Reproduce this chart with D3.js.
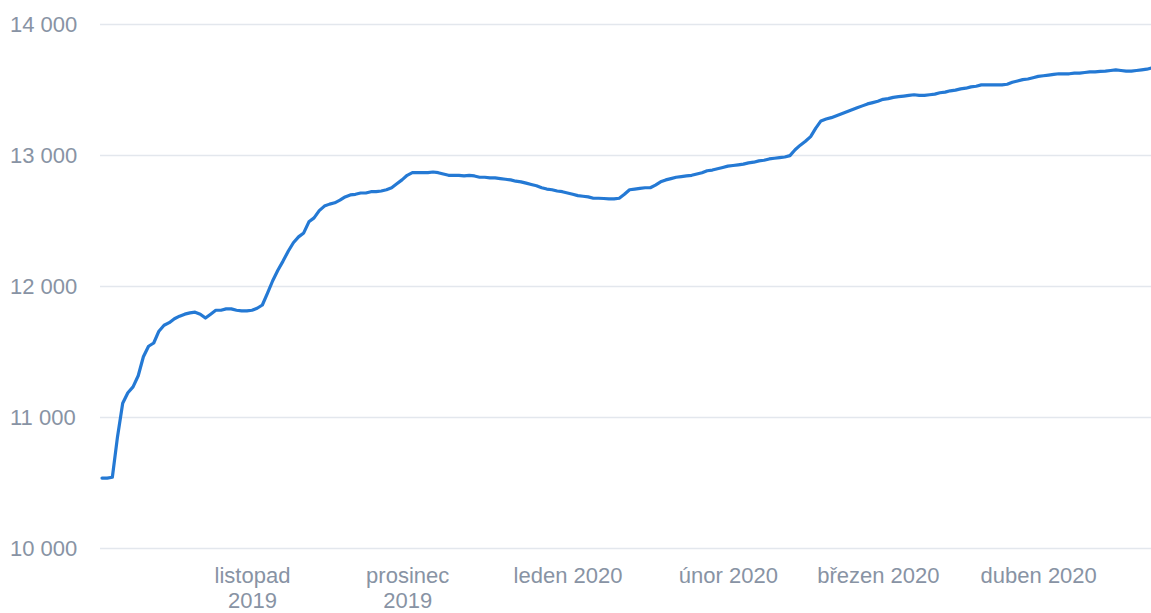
<!DOCTYPE html>
<html>
<head>
<meta charset="utf-8">
<script src="https://cdn.jsdelivr.net/npm/d3@7"></script>
<style>
  html, body { margin: 0; padding: 0; background: #fff; }
  svg { display: block; font-family: Roboto, "Noto Sans", sans-serif; }
</style>
</head>
<body>
<div id="chart"></div>
<script>
// první den řady, dál po jednom dni
const startDate = '2019-10-03';
const dailyValues = [
  // říjen (od 3.)
  10534, 10534, 10540, 10850, 11105, 11185, 11230, 11315, 11460, 11540,
  11565, 11655, 11700, 11720, 11750, 11770, 11785, 11795, 11800, 11785,
  11755, 11785, 11815, 11815, 11825, 11825, 11815, 11810, 11810,
  // listopad
  11815, 11830, 11855, 11945, 12040, 12120, 12190, 12265, 12330, 12375,
  12405, 12490, 12520, 12575, 12610, 12625, 12635, 12655, 12680, 12695,
  12700, 12710, 12710, 12720, 12720, 12725, 12735, 12750, 12780, 12810,
  // prosinec
  12845, 12865, 12865, 12865, 12865, 12870, 12865, 12855, 12845, 12845,
  12845, 12840, 12845, 12840, 12830, 12830, 12825, 12825, 12820, 12815,
  12810, 12800, 12795, 12785, 12775, 12765, 12750, 12740, 12735, 12725,
  12720,
  // leden
  12710, 12700, 12690, 12685, 12680, 12670, 12670, 12668, 12665, 12665,
  12670, 12700, 12735, 12740, 12745, 12750, 12750, 12770, 12795, 12810,
  12820, 12830, 12835, 12840, 12845, 12855, 12865, 12880, 12885, 12895,
  12905,
  // únor
  12915, 12920, 12925, 12930, 12940, 12945, 12955, 12960, 12970, 12975,
  12980, 12985, 12995, 13040, 13075, 13105, 13140, 13205, 13260, 13275,
  13285, 13300, 13315, 13330, 13345, 13360, 13375, 13390, 13400,
  // březen
  13410, 13425, 13430, 13440, 13445, 13450, 13455, 13460, 13455, 13455,
  13460, 13465, 13475, 13480, 13490, 13495, 13505, 13510, 13520, 13525,
  13535, 13535, 13535, 13535, 13535, 13540, 13555, 13565, 13575, 13580,
  13590,
  // duben
  13600, 13605, 13610, 13615, 13620, 13620, 13620, 13625, 13625, 13630,
  13635, 13635, 13638, 13640, 13645, 13650, 13645, 13640, 13640, 13645,
  13650, 13655, 13665
];
const yTicks = [10000, 11000, 12000, 13000, 14000];
const monthTicks = ['2019-11-01', '2019-12-01', '2020-01-01', '2020-02-01', '2020-03-01', '2020-04-01'];
const monthLabels = [
  ['listopad', '2019'],
  ['prosinec', '2019'],
  ['leden 2020'],
  ['únor 2020'],
  ['březen 2020'],
  ['duben 2020']
];

const width = 1151, height = 613;
const margin = { top: 24, right: 0, bottom: 65, left: 100 };
const labelColor = '#8893a4';

const parse = d3.timeParse('%Y-%m-%d');
const t0 = parse(startDate);
const data = dailyValues.map((v, i) => ({ date: d3.timeDay.offset(t0, i), value: v }));

const cs = d3.formatLocale({ decimal: ',', thousands: ' ', grouping: [3], currency: ['', ' Kč'] });
const fmt = cs.format(',');

const svg = d3.select('#chart').append('svg')
  .attr('width', width).attr('height', height);

const x = d3.scaleTime()
  .domain([t0, parse('2020-04-23')])
  .range([102, 1152]);
const y = d3.scaleLinear()
  .domain([10000, 14000])
  .range([height - margin.bottom, margin.top]);

// mřížka + popisky osy y
const yAxis = svg.append('g')
  .attr('transform', `translate(${margin.left},0)`)
  .call(d3.axisLeft(y).tickValues(yTicks).tickFormat(fmt)
    .tickSize(-(width - margin.left)));
yAxis.select('.domain').remove();
yAxis.selectAll('.tick line').attr('stroke', '#e3e7ed').attr('stroke-width', 1.3);
yAxis.selectAll('.tick text')
  .attr('x', 10 - margin.left).attr('text-anchor', 'start')
  .attr('fill', labelColor).attr('font-size', 22).attr('dy', '0.34em');

// osa x
const xAxis = svg.append('g')
  .attr('transform', `translate(0,${height - margin.bottom})`)
  .call(d3.axisBottom(x).tickValues(monthTicks.map(parse)).tickSize(0).tickFormat(''));
xAxis.select('.domain').remove();
xAxis.selectAll('.tick').each(function (d, i) {
  const txt = d3.select(this).append('text')
    .attr('fill', labelColor).attr('font-size', 22)
    .attr('text-anchor', 'middle').attr('y', 35);
  monthLabels[i].forEach((line, j) => {
    txt.append('tspan').attr('x', 0).attr('dy', j === 0 ? 0 : 25).text(line);
  });
});

// čára
const line = d3.line()
  .x(d => x(d.date))
  .y(d => y(d.value));
svg.append('path')
  .datum(data)
  .attr('fill', 'none')
  .attr('stroke', '#2479d4')
  .attr('stroke-width', 3.2)
  .attr('stroke-linejoin', 'round')
  .attr('stroke-linecap', 'round')
  .attr('d', line);
</script>
</body>
</html>
